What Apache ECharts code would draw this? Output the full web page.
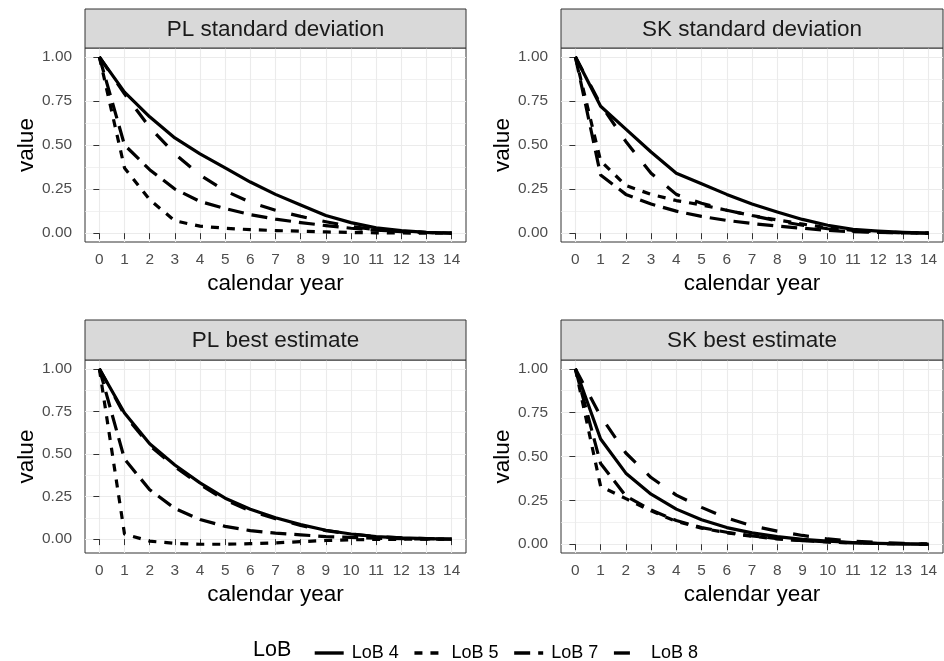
<!DOCTYPE html>
<html>
<head>
<meta charset="utf-8">
<script src="https://cdn.jsdelivr.net/npm/echarts@6/dist/echarts.min.js"></script>
<style>
  html, body { margin: 0; padding: 0; background: #ffffff; }
  #chart { width: 944px; height: 661px; }
</style>
</head>
<body>
<div id="chart"></div>
<script>
// ---- data -------------------------------------------------------------
const years = [0, 1, 2, 3, 4, 5, 6, 7, 8, 9, 10, 11, 12, 13, 14];
const yTicks = [0, 0.25, 0.5, 0.75, 1];
const yMinorTicks = [0.125, 0.375, 0.625, 0.875];
const lobNames = ['LoB 4', 'LoB 5', 'LoB 7', 'LoB 8'];
const panelTitles = ['PL standard deviation', 'SK standard deviation', 'PL best estimate', 'SK best estimate'];

// PL standard deviation
const plSdLob4 = [1, 0.80, 0.66, 0.54, 0.45, 0.37, 0.29, 0.22, 0.16, 0.10, 0.06, 0.03, 0.015, 0.005, 0];
const plSdLob5 = [1, 0.37, 0.19, 0.07, 0.04, 0.028, 0.02, 0.015, 0.011, 0.007, 0.004, 0.002, 0.001, 0, 0];
const plSdLob7 = [1, 0.50, 0.36, 0.25, 0.18, 0.14, 0.105, 0.08, 0.06, 0.043, 0.028, 0.017, 0.009, 0.004, 0];
const plSdLob8 = [1, 0.79, 0.60, 0.45, 0.33, 0.24, 0.175, 0.13, 0.095, 0.065, 0.038, 0.02, 0.01, 0.004, 0];

// SK standard deviation
const skSdLob4 = [1, 0.72, 0.59, 0.46, 0.34, 0.28, 0.22, 0.165, 0.12, 0.078, 0.045, 0.022, 0.012, 0.005, 0];
const skSdLob5 = [1, 0.41, 0.27, 0.22, 0.185, 0.16, 0.13, 0.10, 0.075, 0.052, 0.03, 0.016, 0.008, 0.003, 0];
const skSdLob7 = [1, 0.33, 0.22, 0.165, 0.125, 0.095, 0.072, 0.055, 0.04, 0.028, 0.016, 0.008, 0.004, 0.002, 0];
const skSdLob8 = [1, 0.73, 0.52, 0.34, 0.22, 0.17, 0.13, 0.10, 0.07, 0.045, 0.025, 0.012, 0.006, 0.002, 0];

// PL best estimate
const plBeLob4 = [1, 0.74, 0.56, 0.435, 0.33, 0.24, 0.175, 0.125, 0.085, 0.052, 0.03, 0.015, 0.007, 0.003, 0];
const plBeLob5 = [1, 0.03, -0.012, -0.025, -0.03, -0.03, -0.027, -0.022, -0.015, -0.008, -0.004, -0.002, -0.001, 0, 0];
const plBeLob7 = [1, 0.47, 0.29, 0.18, 0.115, 0.075, 0.05, 0.035, 0.025, 0.015, 0.01, 0.005, 0.003, 0.001, 0];
const plBeLob8 = [1, 0.73, 0.55, 0.425, 0.32, 0.23, 0.165, 0.12, 0.08, 0.05, 0.03, 0.015, 0.007, 0.003, 0];

// SK best estimate
const skBeLob4 = [1, 0.60, 0.405, 0.285, 0.20, 0.14, 0.095, 0.065, 0.043, 0.028, 0.018, 0.01, 0.005, 0.002, 0];
const skBeLob5 = [1, 0.33, 0.26, 0.19, 0.13, 0.092, 0.065, 0.045, 0.031, 0.02, 0.013, 0.008, 0.004, 0.002, 0];
const skBeLob7 = [1, 0.46, 0.275, 0.195, 0.135, 0.095, 0.068, 0.048, 0.032, 0.021, 0.013, 0.008, 0.004, 0.002, 0];
const skBeLob8 = [1, 0.73, 0.52, 0.38, 0.28, 0.21, 0.15, 0.105, 0.075, 0.05, 0.03, 0.018, 0.01, 0.005, 0];

const panelSeries = [
  [plSdLob4, plSdLob5, plSdLob7, plSdLob8],
  [skSdLob4, skSdLob5, skSdLob7, skSdLob8],
  [plBeLob4, plBeLob5, plBeLob7, plBeLob8],
  [skBeLob4, skBeLob5, skBeLob7, skBeLob8]
];

// ---- layout & styling -------------------------------------------------
const FONT = '"Liberation Sans", Arial, Helvetica, sans-serif';
const panels = [
  { left: 85,  top: 48,  width: 381, height: 194, stripTop: 9 },
  { left: 561, top: 48,  width: 382, height: 194, stripTop: 9 },
  { left: 85,  top: 360, width: 381, height: 193, stripTop: 320 },
  { left: 561, top: 360, width: 382, height: 193, stripTop: 320 }
];
// solid, "22", "42", "44"
const dashes = ['solid', [8, 8], [16, 8], [16, 16]];
const xPad = 0.57;

const grids = [], xAxes = [], yAxes = [], series = [], graphics = [];

panels.forEach((p, i) => {
  grids.push({
    left: p.left, top: p.top, width: p.width, height: p.height,
    show: true, borderColor: '#333333', borderWidth: 1, backgroundColor: '#ffffff',
    containLabel: false
  });

  // y range with 5% expansion of the data range on each side
  const all = [].concat(...panelSeries[i]);
  const lo = Math.min(...all), hi = Math.max(...all);
  const pad = (hi - lo) * 0.05;
  const yMin = lo - pad, yMax = hi + pad;

  xAxes.push({
    type: 'value', gridIndex: i, min: -xPad, max: years[years.length - 1] + xPad,
    name: 'calendar year', nameLocation: 'middle', nameGap: 30,
    nameTextStyle: { fontFamily: FONT, fontSize: 22.5, color: '#000000' },
    axisLine: { show: false },
    axisTick: { show: true, length: 6, lineStyle: { color: '#333333', width: 1 }, customValues: years },
    axisLabel: { show: true, margin: 10, fontFamily: FONT, fontSize: 15.4, color: '#4D4D4D',
                 customValues: years, formatter: v => String(v) },
    splitLine: { show: true, lineStyle: { color: '#EBEBEB', width: 1.1 } }
  });

  yAxes.push({
    type: 'value', gridIndex: i, min: yMin, max: yMax,
    name: 'value', nameLocation: 'middle', nameGap: 47, nameRotate: 90,
    nameTextStyle: { fontFamily: FONT, fontSize: 22.5, color: '#000000' },
    axisLine: { show: false },
    axisTick: { show: true, length: 6, lineStyle: { color: '#333333', width: 1 }, customValues: yTicks },
    axisLabel: { show: true, margin: 13, fontFamily: FONT, fontSize: 15.4, color: '#4D4D4D',
                 customValues: yTicks, formatter: v => v.toFixed(2) },
    splitLine: { show: true, lineStyle: { color: '#EBEBEB', width: 1.1 } }
  });
  // companion axis carrying only the minor horizontal grid lines
  yAxes.push({
    type: 'value', gridIndex: i, min: yMin, max: yMax, position: 'left',
    axisLine: { show: false },
    axisTick: { show: false, customValues: yMinorTicks },
    axisLabel: { show: false, customValues: yMinorTicks },
    splitLine: { show: true, lineStyle: { color: '#EBEBEB', width: 0.7 } }
  });

  panelSeries[i].forEach((vals, k) => {
    series.push({
      type: 'line', name: lobNames[k],
      xAxisIndex: i, yAxisIndex: 2 * i,
      data: years.map((x, j) => [x, vals[j]]),
      symbol: 'none', showSymbol: false, silent: true,
      z: 3 + k,
      lineStyle: { color: '#000000', width: 3.2, type: dashes[k], cap: 'butt', join: 'round' },
      itemStyle: { color: '#000000' },
      emphasis: { disabled: true }
    });
  });

  // facet strip
  graphics.push({
    type: 'rect', z: 10,
    shape: { x: p.left, y: p.stripTop, width: p.width, height: p.top - p.stripTop },
    style: { fill: '#D9D9D9', stroke: '#333333', lineWidth: 1 }
  });
  graphics.push({
    type: 'text', z: 11,
    x: p.left + p.width / 2, y: p.stripTop + (p.top - p.stripTop) / 2 + 1,
    style: { text: panelTitles[i], fontFamily: FONT, fontSize: 22.5, fill: '#1A1A1A',
             align: 'center', verticalAlign: 'middle' }
  });
});

// legend title
graphics.push({
  type: 'text', z: 11, x: 253, y: 650,
  style: { text: 'LoB', fontFamily: FONT, fontSize: 21.5, fill: '#000000',
           align: 'left', verticalAlign: 'middle' }
});

const chart = echarts.init(document.getElementById('chart'), null, { renderer: 'canvas' });
chart.setOption({
  animation: false,
  backgroundColor: '#ffffff',
  grid: grids,
  xAxis: xAxes,
  yAxis: yAxes,
  series: series,
  graphic: graphics,
  legend: {
    data: lobNames,
    left: 308, top: 639,
    itemWidth: 29, itemHeight: 18, itemGap: 14,
    selectedMode: false,
    itemStyle: { opacity: 0 },
    lineStyle: { width: 3.4 },
    textStyle: { fontFamily: FONT, fontSize: 18, color: '#000000', padding: [0, 0, 0, 3] }
  }
});
</script>
</body>
</html>
